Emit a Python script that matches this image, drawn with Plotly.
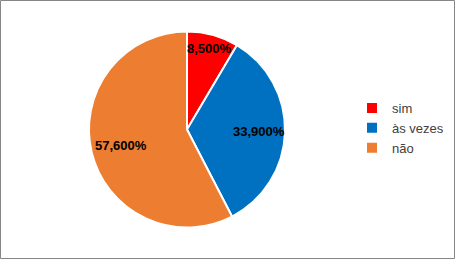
import math
import plotly.graph_objects as go

labels = ["sim", "às vezes", "não"]
values = [8.5, 33.9, 57.6]
colors = ["#FF0000", "#0070C0", "#ED7D31"]
text_labels = ["8,500%", "33,900%", "57,600%"]

# label placement (fraction of radius from centre), style only
label_radius = [0.86, 0.73, 0.69]

W, H = 456, 260
CX, CY, R = 187, 129.5, 98  # pie centre / radius in px

fig = go.Figure(go.Pie(
    labels=labels,
    values=values,
    textinfo="none",
    marker=dict(colors=colors, line=dict(color="white", width=2)),
    sort=False,
    direction="clockwise",
    rotation=0,
    domain=dict(x=[(CX - R) / W, (CX + R) / W], y=[1 - (CY + R) / H, 1 - (CY - R) / H]),
    hoverinfo="skip",
))

total = sum(values)
cum = 0.0
annotations = []
for v, t, f in zip(values, text_labels, label_radius):
    mid = (cum + v / 2) / total * 2 * math.pi
    cum += v
    px = CX + f * R * math.sin(mid)
    py = CY - f * R * math.cos(mid)
    annotations.append(dict(
        x=px / W, y=1 - py / H, xref="paper", yref="paper",
        text=t, showarrow=False, xanchor="center", yanchor="middle",
        font=dict(family="Liberation Sans, Arial", size=13, color="black", weight="bold"),
    ))

fig.update_layout(
    width=W, height=H,
    margin=dict(l=0, r=0, t=0, b=0),
    paper_bgcolor="white",
    plot_bgcolor="white",
    showlegend=True,
    legend=dict(
        x=352 / W, xanchor="left",
        y=1 - 128 / H, yanchor="middle",
        font=dict(family="Liberation Sans, Arial", size=13, color="#404040"),
        itemwidth=30,
        borderwidth=0,
        bgcolor="rgba(0,0,0,0)",
    ),
    annotations=annotations,
    shapes=[dict(
        type="rect", xref="paper", yref="paper",
        x0=0.5 / W, x1=454.5 / W, y0=1 - 258.5 / H, y1=1 - 0.5 / H,
        line=dict(color="#868686", width=1),
    )],
)

fig.write_html("out.html")
